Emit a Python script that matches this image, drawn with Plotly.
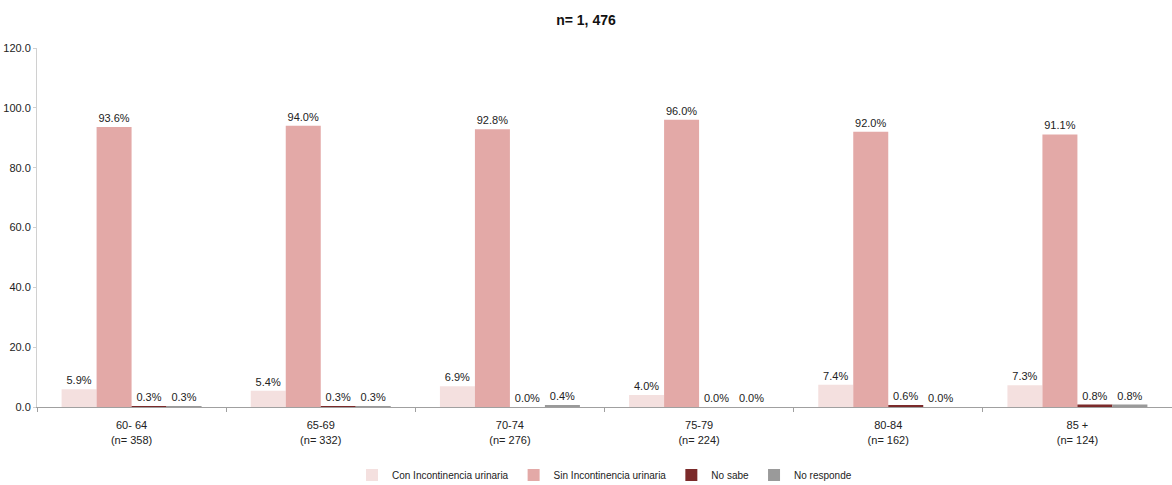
import plotly.graph_objects as go

categories = ["60- 64<br>(n= 358)", "65-69<br>(n= 332)", "70-74<br>(n= 276)",
              "75-79<br>(n= 224)", "80-84<br>(n= 162)", "85 +<br>(n= 124)"]
series_names = ["Con Incontinencia urinaria", "Sin Incontinencia urinaria", "No sabe", "No responde"]
con_inc = [5.9, 5.4, 6.9, 4.0, 7.4, 7.3]
sin_inc = [93.6, 94.0, 92.8, 96.0, 92.0, 91.1]
no_sabe = [0.3, 0.3, 0.0, 0.0, 0.6, 0.8]
no_responde = [0.3, 0.3, 0.4, 0.0, 0.0, 0.8]
colors = ["#F4E0DF", "#E3A9A7", "#7B2A2A", "#9A9A9A"]
title_text = "n= 1, 476"

FONT = "Liberation Sans Narrow, Liberation Sans, Arial, sans-serif"

fig = go.Figure()
for name, vals, col in zip(series_names, [con_inc, sin_inc, no_sabe, no_responde], colors):
    fig.add_trace(go.Bar(
        x=categories, y=vals, name=name, marker_color=col,
        marker_line_width=0,
        text=[f"{v:.1f}%" for v in vals], textposition="outside",
        textfont=dict(size=11, color="#222"), cliponaxis=False,
    ))

fig.update_layout(
    width=1172, height=485,
    barmode="group", bargap=0.26, bargroupgap=0,
    plot_bgcolor="white", paper_bgcolor="white",
    font=dict(family=FONT, size=11, color="#222"),
    margin=dict(l=37, r=0, t=48, b=78, autoexpand=False),
    title=dict(text=f"<b>{title_text}</b>", x=0.5, xanchor="center",
               y=1 - 20 / 485, yanchor="middle",
               font=dict(size=14, family=FONT, color="#111")),
    legend=dict(orientation="h", x=0.5, xanchor="center",
                yref="container", y=10 / 485, yanchor="middle",
                font=dict(size=10), itemwidth=30, traceorder="normal"),
)
fig.update_yaxes(range=[0, 120], dtick=20, tickformat=".1f", showgrid=False,
                 showline=True, linecolor="#D0D0D0", linewidth=1,
                 ticks="outside", ticklen=3, tickcolor="#D0D0D0", zeroline=False,
                 tickfont=dict(size=11), automargin=False)
fig.update_xaxes(showline=True, linecolor="#A0A0A0", linewidth=1,
                 ticks="outside", tickson="boundaries", ticklen=4, tickcolor="#A0A0A0",
                 showgrid=False, tickfont=dict(size=11), automargin=False,
                 ticklabelstandoff=8)

fig.write_html("out.html", config={"displayModeBar": False},
               post_script="document.body.style.margin='0';document.body.style.overflow='hidden';")
